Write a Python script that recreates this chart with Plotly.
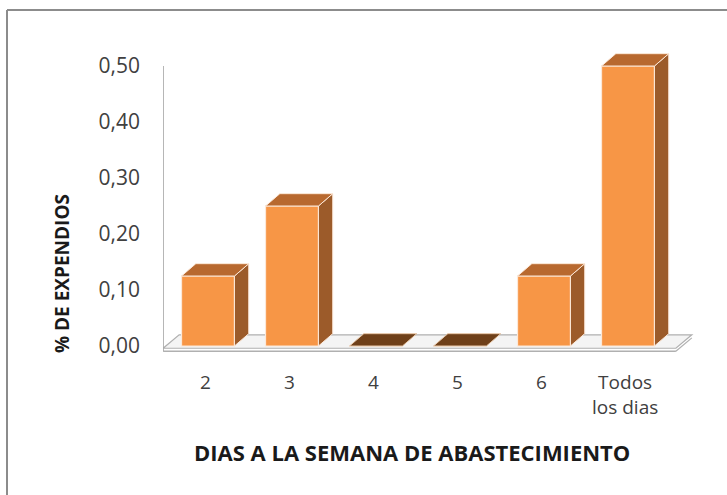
import plotly.graph_objects as go

# ---- data ----
categories = ["2", "3", "4", "5", "6", "Todos<br>los dias"]
values = [0.125, 0.25, 0.0, 0.0, 0.125, 0.50]
y_ticks = [0.0, 0.1, 0.2, 0.3, 0.4, 0.5]
x_title = "DIAS A LA SEMANA DE ABASTECIMIENTO"
y_title = "% DE EXPENDIOS"

# ---- style / geometry ----
FONT = "Open Sans"
FRONT = "#F79646"
SIDE = "#9C5B2A"
TOP = "#B8692F"
TOP_ZERO = "#6F4019"
EDGE = "#FCE8D8"
W = 0.63          # bar width (category units)
DX = 0.17         # depth offset x (category units)
DY = 0.022        # depth offset y (value units)

# plot area in pixels
L, R, T, B = 163, 27, 40, 115
FW, FH = 727, 495
PW, PH = FW - L - R, FH - T - B
X0 = -0.5357
X1 = X0 + PW / 84.0
Y0 = -(PH - 306) / 560.0
Y1 = Y0 + PH / 560.0

fig = go.Figure()
xs = list(range(len(categories)))

# front faces
fig.add_trace(go.Bar(x=xs, y=values, width=W, marker=dict(color=FRONT, line=dict(color=EDGE, width=1.2)),
                     hoverinfo="skip", showlegend=False))

# side faces and top faces
sx, sy, tx, ty, zx, zy = [], [], [], [], [], []
for i, v in zip(xs, values):
    r = i + W / 2
    l = i - W / 2
    if v > 0:
        sx += [r, r + DX, r + DX, r, r, None]
        sy += [0, DY, v + DY, v, 0, None]
        tx += [l, r, r + DX, l + DX, l, None]
        ty += [v, v, v + DY, v + DY, v, None]
    else:
        zx += [l, r, r + DX, l + DX, l, None]
        zy += [v, v, v + DY, v + DY, v, None]

fig.add_trace(go.Scatter(x=sx, y=sy, fill="toself", fillcolor=SIDE, mode="lines",
                         line=dict(color=EDGE, width=1), hoverinfo="skip", showlegend=False))
fig.add_trace(go.Scatter(x=tx, y=ty, fill="toself", fillcolor=TOP, mode="lines",
                         line=dict(color=EDGE, width=1), hoverinfo="skip", showlegend=False))
fig.add_trace(go.Scatter(x=zx, y=zy, fill="toself", fillcolor=TOP_ZERO, mode="lines",
                         line=dict(color="#E8C7A8", width=1), hoverinfo="skip", showlegend=False))

# floor (slab) and vertical wall line as shapes below traces
fx0, fx1 = X0 + 0.002, 5.57
fdx, fdy = 0.19, 0.024
fig.add_shape(type="path", xref="x", yref="y", layer="below",
              path=f"M {fx0},{-0.004} L {fx1},{-0.004} L {fx1+fdx},{-0.004+fdy} L {fx0+fdx},{-0.004+fdy} Z",
              fillcolor="#F4F4F4", line=dict(color="#B0B0B0", width=1.2))
fig.add_shape(type="line", xref="x", yref="y", layer="below",
              x0=fx0, x1=fx1, y0=-0.0095, y1=-0.0095, line=dict(color="#B0B0B0", width=1.5))
fig.add_shape(type="line", xref="x", yref="y", layer="below",
              x0=fx1, x1=fx1 + fdx, y0=-0.0095, y1=-0.0095 + fdy, line=dict(color="#B0B0B0", width=1.2))
fig.add_shape(type="line", xref="x", yref="y", layer="below",
              x0=fx0, x1=fx0, y0=-0.0095, y1=max(y_ticks), line=dict(color="#A6A6A6", width=1.3))

# outer frame (top and left edges)
px = lambda p: (p - L) / PW
py = lambda p: (FH - B - p) / PH
fig.add_shape(type="line", xref="paper", yref="paper", x0=px(7), x1=px(727), y0=py(10), y1=py(10),
              line=dict(color="#8C8C8C", width=2))
fig.add_shape(type="line", xref="paper", yref="paper", x0=px(7), x1=px(7), y0=py(10), y1=py(495),
              line=dict(color="#8C8C8C", width=2))

# category labels
for i, c in zip(xs, categories):
    fig.add_annotation(x=i - 0.03, y=0, xref="x", yref="y", xanchor="center", yanchor="top",
                       yshift=-21, text=c, showarrow=False,
                       font=dict(family=FONT, size=19, color="#404040"))

# axis titles
fig.add_annotation(x=px(412), y=py(452), xref="paper", yref="paper", xanchor="center", yanchor="middle",
                   text=f"<b>{x_title}</b>", showarrow=False,
                   font=dict(family=FONT, size=22, color="#1A1A1A"))
fig.add_annotation(x=px(62), y=py(274), xref="paper", yref="paper", xanchor="center", yanchor="middle",
                   text=f"<b>{y_title}</b>", textangle=-90, showarrow=False,
                   font=dict(family=FONT, size=19, color="#1A1A1A"))

fig.update_layout(
    width=FW, height=FH, margin=dict(l=L, r=R, t=T, b=B),
    paper_bgcolor="white", plot_bgcolor="rgba(0,0,0,0)",
    separators=",.", showlegend=False,
    xaxis=dict(range=[X0, X1], showgrid=False, zeroline=False, showline=False, showticklabels=False, fixedrange=True),
    yaxis=dict(range=[Y0, Y1], showgrid=False, zeroline=False, showline=False, tickvals=y_ticks,
               tickformat=".2f", ticks="", ticklabelstandoff=22,
               tickfont=dict(family=FONT, size=21, color="#404040"), fixedrange=True),
)

fig.write_html("out.html")
